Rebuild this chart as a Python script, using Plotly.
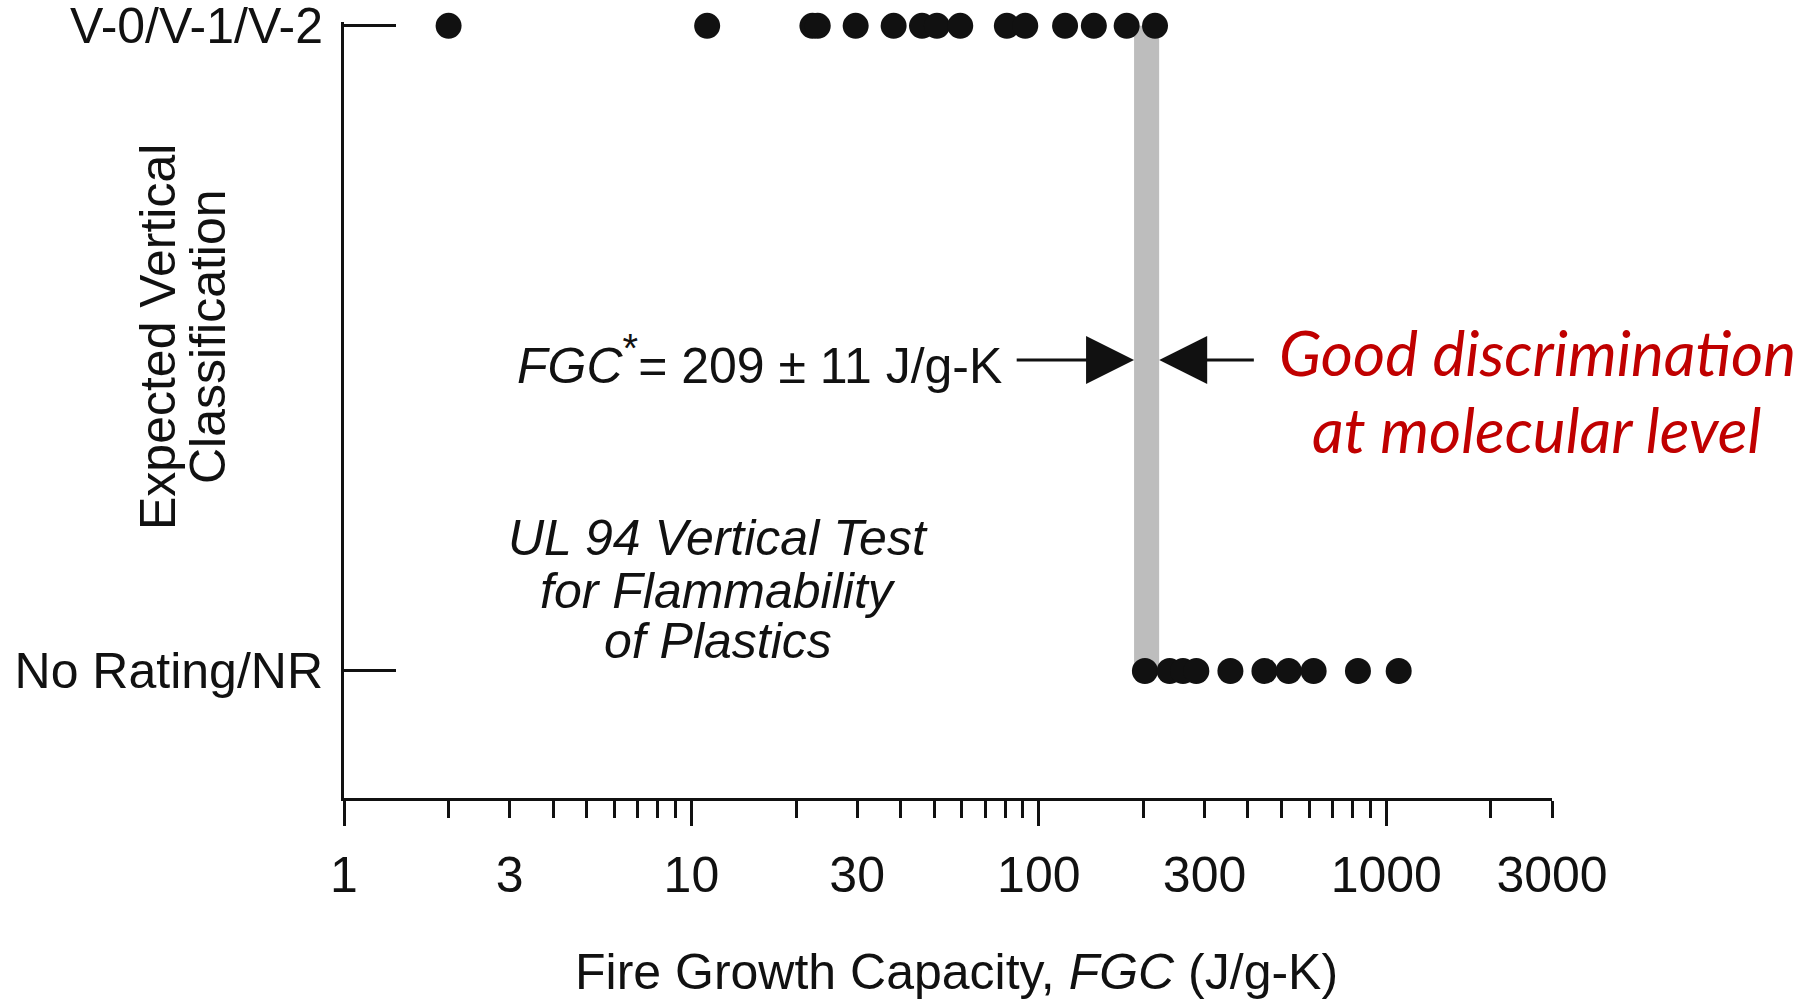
import math
import plotly.graph_objects as go

# ---------------- data ----------------
categories = ["No Rating/NR", "V-0/V-1/V-2"]
category_pos = [0, 1]

fgc_rated = [2.0, 11.1, 22.3, 23.1, 29.7, 38.2, 46.1, 50.9, 59.4, 80.9, 91.4, 119, 144, 179, 216]
fgc_not_rated = [202, 238, 260, 284, 356, 446, 524, 618, 829, 1086]

x_label_vals = [1, 3, 10, 30, 100, 300, 1000, 3000]
x_label_text = ["1", "3", "10", "30", "100", "300", "1000", "3000"]
x_decades = [1, 10, 100, 1000]
x_minor = [2, 4, 5, 6, 7, 8, 9, 20, 40, 50, 60, 70, 80, 90,
           200, 400, 500, 600, 700, 800, 900, 2000]

band_low, band_high = 188, 222          # shaded critical FGC band
arrow_left_tail, arrow_right_tail = 85.5, 420
arrow_level = 0.482

FONT = "Liberation Sans, Arial, Helvetica, sans-serif"
BLACK = "#111111"

fig = go.Figure()

fig.add_trace(go.Scatter(
    x=fgc_rated, y=[category_pos[1]] * len(fgc_rated), mode="markers",
    marker=dict(size=26, color=BLACK), cliponaxis=False, showlegend=False))
fig.add_trace(go.Scatter(
    x=fgc_not_rated, y=[category_pos[0]] * len(fgc_not_rated), mode="markers",
    marker=dict(size=26, color=BLACK), cliponaxis=False, showlegend=False))
# invisible trace to activate overlay axis (long decade ticks)
fig.add_trace(go.Scatter(
    x=x_decades, y=[category_pos[0]] * len(x_decades), xaxis="x2", mode="markers",
    marker=dict(size=1, opacity=0), hoverinfo="skip", showlegend=False))

fig.add_shape(type="rect", xref="x", yref="y", x0=band_low, x1=band_high,
              y0=category_pos[0], y1=category_pos[1],
              fillcolor="#bdbdbd", line=dict(width=0), layer="below")

xr = [0, math.log10(3000)]
fig.update_layout(
    width=1809, height=1002,
    margin=dict(l=344, r=257, t=22, b=204, pad=0, autoexpand=False),
    paper_bgcolor="white", plot_bgcolor="white",
    font=dict(family=FONT, size=50, color=BLACK),
    xaxis=dict(
        type="log", range=xr, showline=True, linewidth=3, linecolor=BLACK,
        tickmode="array", tickvals=x_label_vals, ticktext=x_label_text,
        ticks="outside", ticklen=17, tickwidth=3, tickcolor=BLACK,
        tickfont=dict(family=FONT, size=50, color=BLACK),
        ticklabelstandoff=14, automargin=False,
        showgrid=False, zeroline=False,
        minor=dict(tickmode="array", tickvals=x_minor, ticks="outside",
                   ticklen=17, tickwidth=3, tickcolor=BLACK, showgrid=False),
    ),
    xaxis2=dict(
        type="log", range=xr, overlaying="x", anchor="y", side="bottom",
        tickmode="array", tickvals=x_decades, ticks="outside", ticklen=27,
        tickwidth=3, tickcolor=BLACK, showticklabels=False, showline=False,
        showgrid=False, zeroline=False, automargin=False,
    ),
    yaxis=dict(
        range=[-0.1969, 1.006], showline=True, linewidth=3, linecolor=BLACK,
        tickmode="array", tickvals=category_pos, ticktext=categories,
        ticks="inside", ticklen=52, tickwidth=3, tickcolor=BLACK,
        tickfont=dict(family=FONT, size=50, color=BLACK),
        ticklabelstandoff=8, ticklabeloverflow="allow", automargin=False,
        showgrid=False, zeroline=False,
    ),
)

ann = []
# axis titles
ann.append(dict(text="Fire Growth Capacity, <i>FGC</i> (J/g-K)", xref="paper", yref="paper",
                x=(956 - 344) / 1208, y=(798 - 972) / 776, xanchor="center", yanchor="middle",
                showarrow=False, font=dict(family=FONT, size=50, color=BLACK)))
ann.append(dict(text="Expected Vertical", xref="paper", yref="paper", textangle=-90,
                x=(158 - 344) / 1208, y=(798 - 337) / 776, xanchor="center", yanchor="middle",
                showarrow=False, font=dict(family=FONT, size=50, color=BLACK)))
ann.append(dict(text="Classification", xref="paper", yref="paper", textangle=-90,
                x=(208 - 344) / 1208, y=(798 - 337) / 776, xanchor="center", yanchor="middle",
                showarrow=False, font=dict(family=FONT, size=50, color=BLACK)))
# FGC* label
ann.append(dict(text="<i>FGC</i><sup><span style='font-size:40px'>*</span></sup>= 209 ± 11 J/g-K",
                xref="paper", yref="y",
                x=(1004 - 344) / 1208, y=arrow_level, xanchor="right", yanchor="middle",
                showarrow=False, font=dict(family=FONT, size=50, color=BLACK)))
# arrows
for tip, tail in [(band_low, arrow_left_tail), (band_high, arrow_right_tail)]:
    ann.append(dict(text="", xref="x", yref="y", axref="x", ayref="y",
                    x=math.log10(tip), y=arrow_level, ax=math.log10(tail), ay=arrow_level,
                    showarrow=True, arrowhead=2, arrowsize=3.2, arrowwidth=3,
                    arrowcolor=BLACK, standoff=0, startstandoff=0))
# UL 94 text
for txt, yy in [("UL 94 Vertical Test", 538), ("for Flammability", 591), ("of Plastics", 641)]:
    ann.append(dict(text="<i>" + txt + "</i>", xref="paper", yref="paper",
                    x=(718 - 344) / 1208, y=(798 - yy) / 776, xanchor="center", yanchor="middle",
                    showarrow=False, font=dict(family=FONT, size=50, color=BLACK)))
# red note
for txt, xx, yy in [("Good discrimination", 1537, 352), ("at molecular level", 1536, 429)]:
    ann.append(dict(text="<i>" + txt + "</i>", xref="paper", yref="paper",
                    x=(xx - 344) / 1208, y=(798 - yy) / 776, xanchor="center", yanchor="middle",
                    showarrow=False, font=dict(family="Lato, Carlito, sans-serif", size=62, color="#C00000")))

fig.update_layout(annotations=ann)
fig.write_html("out.html")
